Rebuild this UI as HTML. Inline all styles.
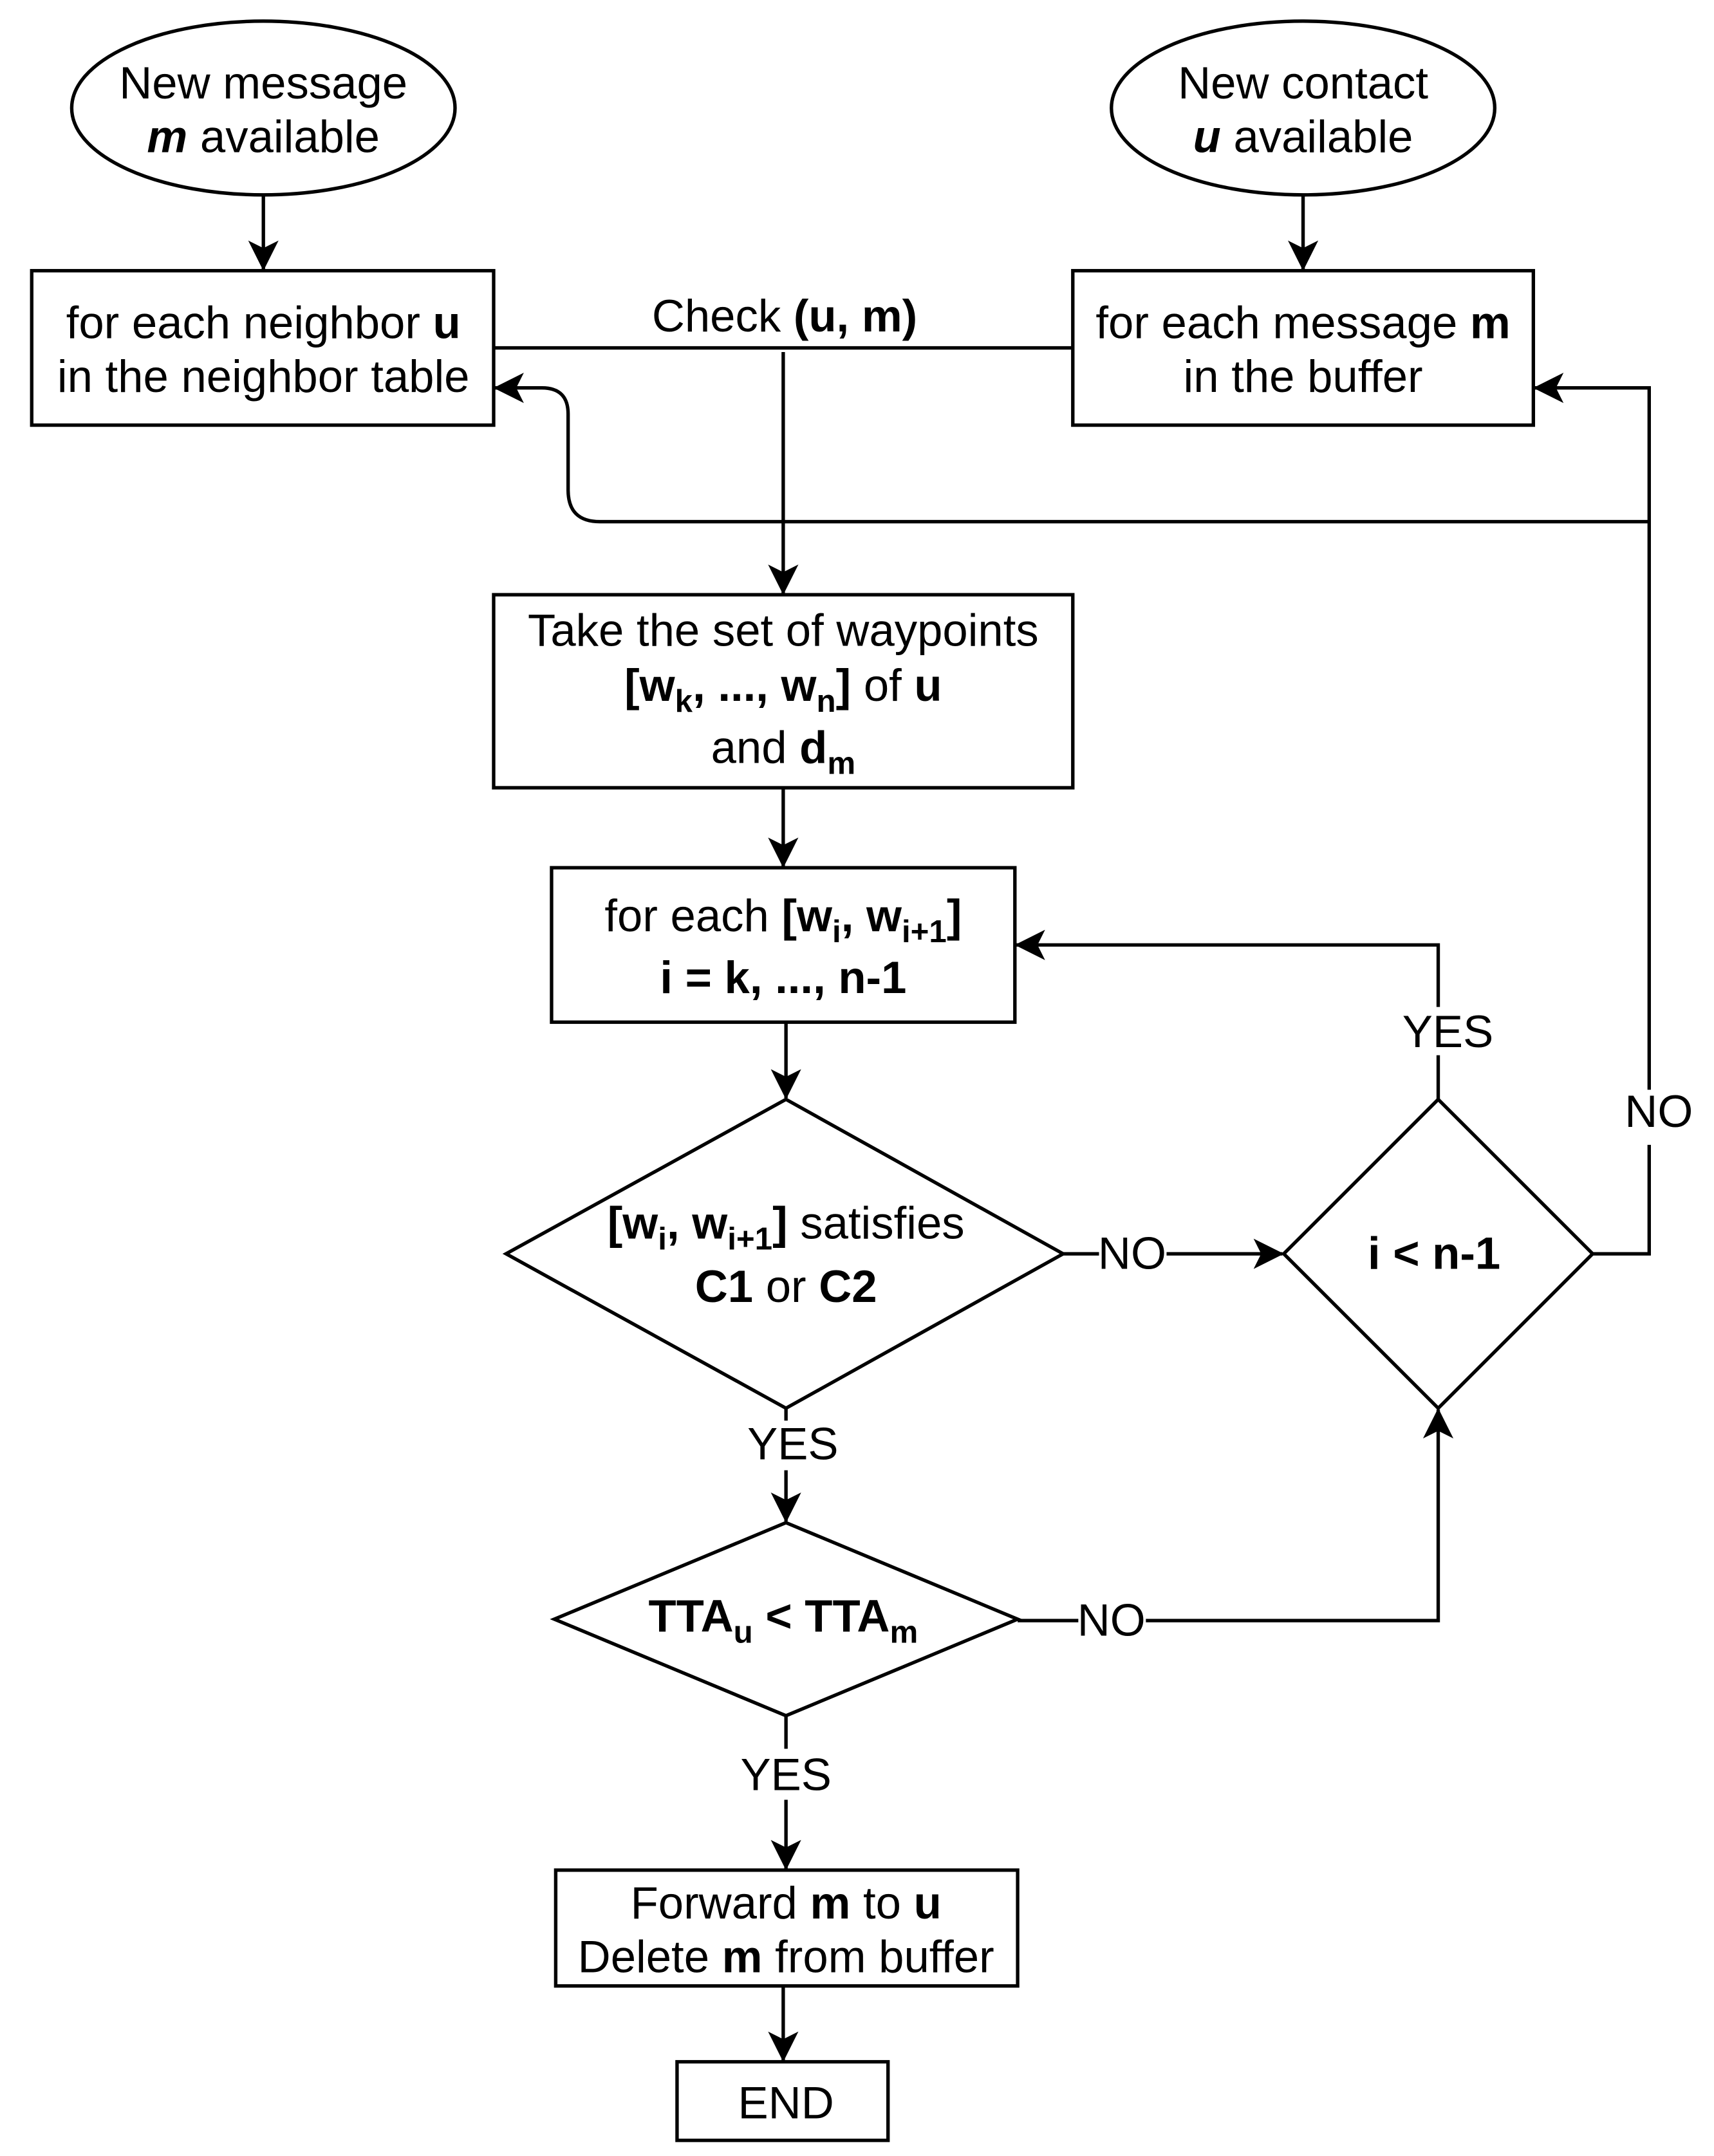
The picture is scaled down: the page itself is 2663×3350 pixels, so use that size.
<!DOCTYPE html>
<html><head><meta charset="utf-8"><style>
html,body{margin:0;padding:0;background:#fff;}
svg{display:block;}
text{font-family:"Liberation Sans",Arial,sans-serif;font-size:33px;fill:#000;text-anchor:middle;}
.b{font-weight:bold;}
</style></head><body>
<svg width="2663" height="3350" viewBox="0 0 1243 1563" xmlns="http://www.w3.org/2000/svg">
<defs>
<marker id="ah" viewBox="0 0 20 20" refX="19" refY="10" markerWidth="22" markerHeight="22" orient="auto" markerUnits="userSpaceOnUse">
<path d="M0,0 L20,10 L0,20 L5,10 Z" fill="#000"/>
</marker>
</defs>
<g fill="none" stroke="#000" stroke-width="2.5">
<ellipse cx="191" cy="78" rx="139" ry="63"/>
<ellipse cx="945" cy="78" rx="139" ry="63"/>
<rect x="23" y="196" width="335" height="112"/>
<rect x="778" y="196" width="334" height="112"/>
<rect x="358" y="431" width="420" height="140"/>
<rect x="400" y="629" width="336" height="112"/>
<polygon points="570,797 771,909 570,1021 367,909"/>
<polygon points="1043,797 1155,909 1043,1021 931,909"/>
<polygon points="570,1104 738,1174 570,1244 402,1174"/>
<rect x="403" y="1356" width="335" height="84"/>
<rect x="491" y="1495" width="153" height="57"/>
<line x1="191" y1="141" x2="191" y2="195" marker-end="url(#ah)"/>
<line x1="945" y1="141" x2="945" y2="195" marker-end="url(#ah)"/>
<line x1="358" y1="252" x2="778" y2="252"/>
<line x1="568" y1="255" x2="568" y2="430" marker-end="url(#ah)"/>
<path d="M1196,378 L435,378 Q412,378 412,355 L412,300 Q412,281 393,281 L359,281" marker-end="url(#ah)"/>
<path d="M1155,909 L1196,909 L1196,830 M1196,790 L1196,281 L1113,281" marker-end="url(#ah)"/>
<line x1="568" y1="571" x2="568" y2="628" marker-end="url(#ah)"/>
<line x1="570" y1="741" x2="570" y2="796" marker-end="url(#ah)"/>
<path d="M771,909 L797,909 M846,909 L930,909" marker-end="url(#ah)"/>
<path d="M1043,797 L1043,765 M1043,730 L1043,685 L737,685" marker-end="url(#ah)"/>
<path d="M570,1021 L570,1030 M570,1066 L570,1103" marker-end="url(#ah)"/>
<path d="M738,1175 L782,1175 M831,1175 L1043,1175 L1043,1022" marker-end="url(#ah)"/>
<path d="M570,1244 L570,1268 M570,1305 L570,1355" marker-end="url(#ah)"/>
<line x1="568" y1="1440" x2="568" y2="1494" marker-end="url(#ah)"/>
</g>
<text x="191" y="71">New message</text>
<text x="191" y="110"><tspan class="b" font-style="italic">m</tspan> available</text>
<text x="945" y="71">New contact</text>
<text x="945" y="110"><tspan class="b" font-style="italic">u</tspan> available</text>
<text x="191" y="245">for each neighbor <tspan class="b">u</tspan></text>
<text x="191" y="284">in the neighbor table</text>
<text x="945" y="245">for each message <tspan class="b">m</tspan></text>
<text x="945" y="284">in the buffer</text>
<text x="569" y="240">Check <tspan class="b">(u, m)</tspan></text>
<text x="568" y="468">Take the set of waypoints</text>
<text x="568" y="508"><tspan class="b">[w<tspan font-size="23" dy="8">k</tspan><tspan dy="-8">, ..., w</tspan><tspan font-size="23" dy="8">n</tspan><tspan dy="-8">]</tspan></tspan> of <tspan class="b">u</tspan></text>
<text x="568" y="553">and <tspan class="b">d<tspan font-size="23" dy="8">m</tspan></tspan></text>
<text x="568" y="675">for each <tspan class="b">[w<tspan font-size="23" dy="8">i</tspan><tspan dy="-8">, w</tspan><tspan font-size="23" dy="8">i+1</tspan><tspan dy="-8">]</tspan></tspan></text>
<text x="568" y="720" class="b">i = k, ..., n-1</text>
<text x="570" y="898"><tspan class="b">[w<tspan font-size="23" dy="8">i</tspan><tspan dy="-8">, w</tspan><tspan font-size="23" dy="8">i+1</tspan><tspan dy="-8">]</tspan></tspan> satisfies</text>
<text x="570" y="944"><tspan class="b">C1</tspan> or <tspan class="b">C2</tspan></text>
<text x="1040" y="920" class="b">i &lt; n-1</text>
<text x="568" y="1183" class="b">TTA<tspan font-size="23" dy="8">u</tspan><tspan dy="-8"> &lt; TTA</tspan><tspan font-size="23" dy="8">m</tspan></text>
<text x="821" y="920">NO</text>
<text x="806" y="1186">NO</text>
<text x="1203" y="817">NO</text>
<text x="1050" y="759">YES</text>
<text x="575" y="1058">YES</text>
<text x="570" y="1298">YES</text>
<text x="570" y="1391">Forward <tspan class="b">m</tspan> to <tspan class="b">u</tspan></text>
<text x="570" y="1430">Delete <tspan class="b">m</tspan> from buffer</text>
<text x="570" y="1536">END</text>
</svg>
</body></html>
